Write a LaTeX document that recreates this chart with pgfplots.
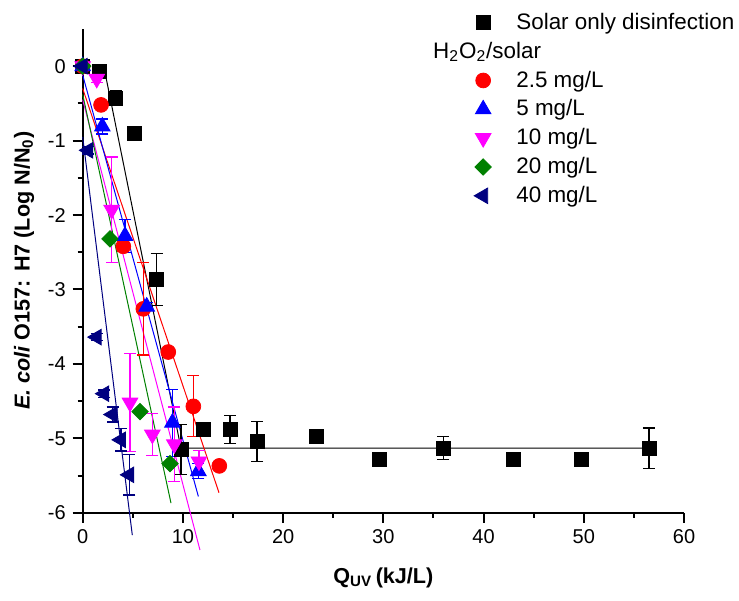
\documentclass[border=0pt]{standalone}
\usepackage{fontspec}
\setmainfont{Liberation Sans}
\usepackage{pgfplots}
\pgfplotsset{compat=1.18}
\definecolor{dgreen}{RGB}{0,128,0}
\definecolor{navy}{RGB}{0,0,128}
\definecolor{mag}{RGB}{255,0,255}
\definecolor{rd}{RGB}{255,0,0}
\definecolor{bl}{RGB}{0,0,255}

\pgfplotsset{
  ebar/.style={error bars/.cd, y dir=both, y explicit,
    error bar style={line width=0.6pt},
    error mark options={rotate=90, mark size=3pt, line width=0.6pt}},
  fitline/.style={no marks, line width=0.5pt, forget plot},
}

\begin{document}
\begin{tikzpicture}
\begin{axis}[
  scale only axis, width=300.65pt, height=241.9pt,
  xmin=0, xmax=60, ymin=-6, ymax=0.5,
  axis x line*=bottom, axis y line*=left,
  axis line style={line width=1pt},
  xtick={0,10,...,60}, ytick={-6,-5,...,0},
  minor x tick num=1, minor y tick num=1,
  tick align=outside, major tick length=5pt, minor tick length=2.5pt,
  every tick/.style={line width=1pt, black},
  ticklabel style={font=\fontsize{10}{12}\selectfont},
  /pgf/number format/assume math mode=true,
  xlabel={\textbf{Q\textsubscript{UV}\,(kJ/L)}},
  ylabel={\textbf{\textit{E. coli} O157: H7 (Log N/N\textsubscript{0})}},
  label style={font=\fontsize{10.8}{12}\selectfont},
  xlabel style={at={(axis description cs:0.5,0)}, anchor=center, yshift=-32.4pt},
  clip=false,
  legend style={draw=none, fill=none, at={(0.627,1.05)}, anchor=north west,
    font=\fontsize{11.2}{13}\selectfont, row sep=0.8pt, column sep=10.5pt},
  legend cell align=left,
]
% fitted lines
\addplot[fitline, black] coordinates {(2.1,0) (9.8,-5.13) (56.5,-5.13)};
\addplot[fitline, rd] coordinates {(0,-0.3) (13.6,-5.73)};
\addplot[fitline, bl] coordinates {(0,-0.12) (11.54,-5.78)};
\addplot[fitline, mag] coordinates {(0,-0.45) (11.7,-6.5)};
\addplot[fitline, dgreen] coordinates {(0,-0.38) (8.81,-5.87)};
\addplot[fitline, navy] coordinates {(0,-0.95) (4.95,-6.3)};

% solar only
\addplot[only marks, black, mark=square*, mark size=3.5pt, ebar] table[y error index=2] {
0 0 0
1.66 -0.07 0.05
3.3 -0.43 0.1
5.2 -0.9 0
7.38 -2.87 0.35
9.8 -5.15 0.34
12.04 -4.88 0
14.7 -4.88 0.19
17.4 -5.04 0.27
23.3 -4.98 0
29.6 -5.28 0
36.0 -5.13 0.15
43.0 -5.28 0
49.8 -5.28 0
56.5 -5.13 0.27
};
\addlegendentry{Solar only disinfection}
\addlegendimage{empty legend}
\addlegendentry{\hspace{-41.6pt}H\textsubscript{2}O\textsubscript{2}/solar}

% 2.5 mg/L
\addplot[only marks, rd, mark=*, mark size=3.7pt, ebar] table[y error index=2] {
0 0 0
1.83 -0.52 0
4.05 -2.42 0.07
6.05 -3.26 0.62
8.54 -3.84 0
11.04 -4.57 0.41
13.63 -5.37 0
};
\addlegendentry{2.5 mg/L}

% 5 mg/L
\addplot[only marks, bl, mark=triangle*, mark size=4.5pt, ebar] table[y error index=2] {
0 0 0
1.96 -0.81 0.1
4.22 -2.28 0.22
6.39 -3.23 0.05
8.95 -4.79 0.45
11.54 -5.44 0.1
};
\addlegendentry{5 mg/L}

% 10 mg/L
\addplot[only marks, mag, mark=triangle*, mark size=4.5pt,
  mark options={rotate=180}, ebar] table[y error index=2] {
0 0 0
1.4 -0.17 0.05
2.89 -1.93 0.71
4.72 -4.52 0.66
6.95 -4.95 0.28
9.14 -5.08 0.5
11.6 -5.31 0.15
};
\addlegendentry{10 mg/L}

% 20 mg/L
\addplot[only marks, dgreen, mark=square*, mark size=2.9pt,
  mark options={rotate=45}] table {
0 0
2.72 -2.32
5.72 -4.64
8.71 -5.34
};
\addlegendentry{20 mg/L}

% 40 mg/L
\addplot[only marks, navy, mark=triangle*, mark size=4.5pt,
  mark options={rotate=90}, ebar] table[y error index=2] {
0 0 0
0.56 -1.13 0.05
1.4 -3.64 0.05
2.16 -4.40 0.05
2.99 -4.68 0.1
3.82 -5.02 0.15
4.65 -5.49 0.27
};
\addlegendentry{40 mg/L}

\coordinate (ll) at (rel axis cs:0,0);
\coordinate (ur) at (rel axis cs:1,1);
\end{axis}
\pgfresetboundingbox
\path ([shift={(-41.35pt,-43.85pt)}]ll) rectangle ([shift={(27.5pt,14.5pt)}]ur);
\end{tikzpicture}
\end{document}
